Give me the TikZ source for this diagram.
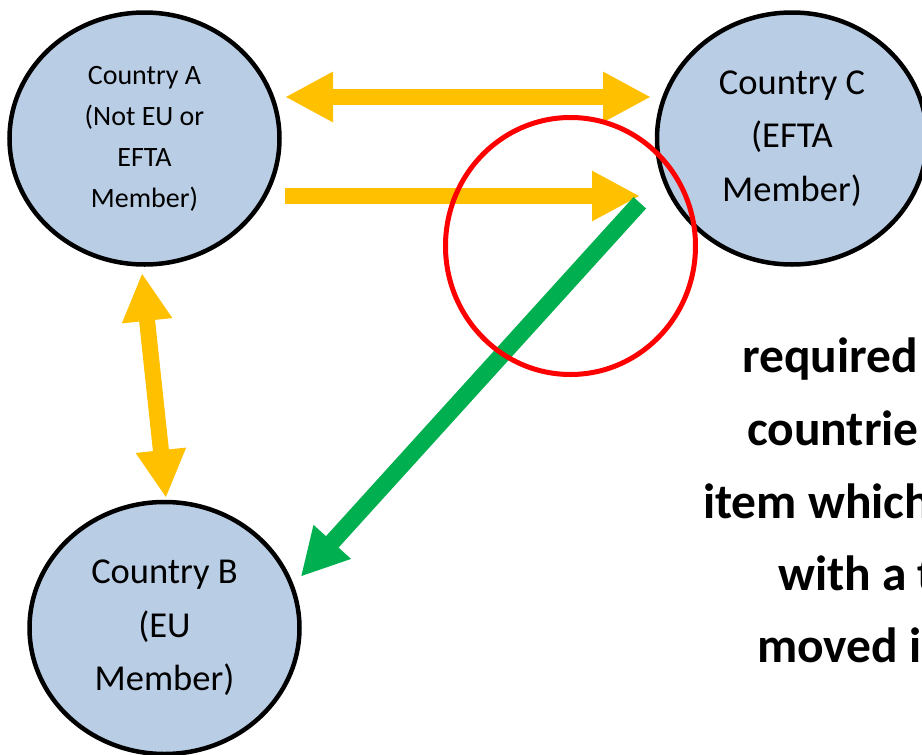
\documentclass[tikz,border=0pt]{standalone}
\usepackage{fontspec}
\setmainfont{Carlito}
\usetikzlibrary{shapes.geometric,arrows.meta}
\definecolor{cfill}{RGB}{185,205,229}
\definecolor{cyellow}{RGB}{255,192,0}
\definecolor{cgreen}{RGB}{0,176,80}
\definecolor{cred}{RGB}{255,0,0}
\tikzset{
  country/.style={ellipse, draw=black, line width=4.5pt, fill=cfill,
    minimum width=270pt, minimum height=252pt, inner sep=0pt, align=center},
  smalltxt/.style={font=\fontsize{28}{41}\selectfont},
  bigtxt/.style={font=\fontsize{36.5}{53.5}\selectfont},
  yarrow/.style={draw=cyellow, line width=16pt, -{Triangle[length=48pt,width=47pt]}},
  ydarrow/.style={draw=cyellow, line width=16pt, {Triangle[length=48pt,width=47pt]}-{Triangle[length=48pt,width=47pt]}},
  garrow/.style={draw=cgreen, line width=17pt, -{Triangle[length=47pt,width=47pt]}},
  redring/.style={draw=cred, line width=5pt},
  note/.style={font=\fontsize{49.5}{72}\selectfont\bfseries, anchor=base west, inner sep=0pt}
}
\begin{document}
\begin{tikzpicture}[x=1pt,y=-1pt]
\useasboundingbox (0,0) rectangle (922,755);
\clip (0,0) rectangle (922,755);
\fill[white] (0,0) rectangle (922,755);
% countries
\node[country, smalltxt] (A) at (144.5,138.5) {Country A\\(Not EU or\\EFTA\\Member)};
\node[country, bigtxt] (C) at (792,138.5) {Country C\\(EFTA\\Member)};
\node[country, bigtxt] (B) at (164.5,628) {Country B\\(EU\\Member)};
% arrow end points
\coordinate (t1) at (285,97);
\coordinate (t2) at (651,97);
\coordinate (m1) at (285,196);
\coordinate (m2) at (640,196);
\coordinate (v1) at (142,273);
\coordinate (v2) at (166,498);
\coordinate (g1) at (639.8,202.8);
\coordinate (g2) at (300.7,576.7);
% yellow arrows
\draw[ydarrow] (t1) -- (t2);
\draw[yarrow] (m1) -- (m2);
\draw[ydarrow] (v1) -- (v2);
% green arrow
\draw[garrow] (g1) -- (g2);
% red ring
\node[ellipse, redring, minimum width=250pt, minimum height=257pt, inner sep=0pt] (R) at (570.5,246) {};
% text on the right
\node[note] (n1) at (742,372) {required};
\node[note] (n2) at (747,445) {countrie};
\node[note] (n3) at (703,518) {item which};
\node[note] (n4) at (778,590) {with a t};
\node[note] (n5) at (757,662) {moved i};
\end{tikzpicture}
\end{document}
